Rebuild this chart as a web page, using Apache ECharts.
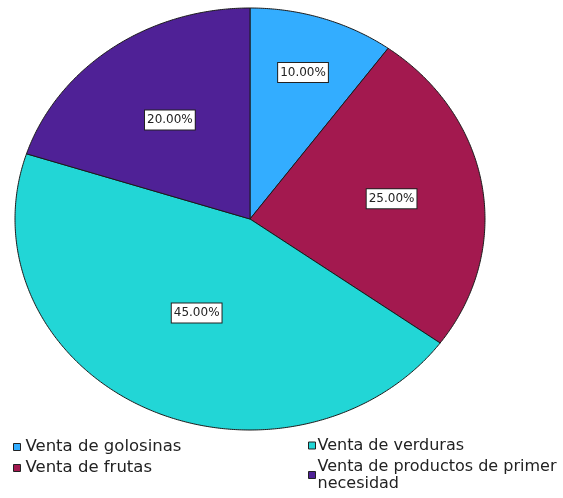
<!DOCTYPE html>
<html>
<head>
<meta charset="utf-8">
<script src="https://cdn.jsdelivr.net/npm/echarts@6/dist/echarts.min.js"></script>
<style>html,body{margin:0;padding:0;background:#fff;}#c{width:563px;height:498px;}</style>
</head>
<body>
<div id="c"></div>
<script>
const categories = ['Venta de golosinas', 'Venta de frutas', 'Venta de verduras', 'Venta de productos de primer necesidad'];
const values = [10, 25, 45, 20];
const colors = ['#33adff', '#a3194f', '#22d6d6', '#4f2196'];
const labelRadius = [0.73, 0.61, 0.50, 0.58];

const total = values.reduce((a, b) => a + b, 0);
const starts = [];
let acc = 0;
values.forEach(v => { starts.push(acc); acc += v; });

function renderSlice(params, api) {
  const i = params.seriesIndex;
  const a0 = starts[i] / total * 2 * Math.PI;
  const a1 = (starts[i] + values[i]) / total * 2 * Math.PI;
  const pts = [api.coord([0, 0])];
  const steps = Math.max(8, Math.ceil((a1 - a0) / (Math.PI / 360)));
  for (let k = 0; k <= steps; k++) {
    const a = a0 + (a1 - a0) * k / steps;
    pts.push(api.coord([Math.sin(a), Math.cos(a)]));
  }
  const am = (a0 + a1) / 2;
  const r = labelRadius[i];
  const lp = api.coord([r * Math.sin(am), r * Math.cos(am)]);
  const pct = (values[i] / total * 100).toFixed(2) + '%';
  return {
    type: 'group',
    children: [
      { type: 'polygon', shape: { points: pts }, style: { fill: colors[i], stroke: '#1a1a1a', lineWidth: 1 } },
      { type: 'text', z2: 100, style: {
          text: pct, x: lp[0], y: lp[1], align: 'center', verticalAlign: 'middle',
          fill: '#222', font: '12px "DejaVu Sans"', backgroundColor: '#fff',
          borderColor: '#222', borderWidth: 1, padding: [4, 2, 3, 2]
      } }
    ]
  };
}

const chart = echarts.init(document.getElementById('c'));
const legendCommon = {
  orient: 'vertical', icon: 'rect', itemWidth: 7, itemHeight: 7, padding: 0,
  itemStyle: { borderColor: '#222', borderWidth: 1 },
  selectedMode: false, height: 80
};
chart.setOption({
  animation: false,
  grid: { left: 15, top: 8, width: 470, height: 422 },
  xAxis: { type: 'value', min: -1, max: 1, show: false },
  yAxis: { type: 'value', min: -1, max: 1, show: false },
  legend: [
    Object.assign({}, legendCommon, { left: 13, top: 438, itemGap: 3,
      textStyle: { fontFamily: 'DejaVu Sans', fontSize: 16.5, color: '#222', lineHeight: 18, padding: 0 },
      data: [categories[0], categories[1]] }),
    Object.assign({}, legendCommon, { left: 308, top: 437, itemGap: 4,
      textStyle: { fontFamily: 'DejaVu Sans', fontSize: 16, color: '#222', lineHeight: 17, padding: [0, 0, 0, -3] },
      data: [categories[2], categories[3]],
      formatter: n => n === categories[3] ? 'Venta de productos de primer\nnecesidad' : n })
  ],
  series: categories.map((name, i) => ({
    type: 'custom', name: name, coordinateSystem: 'cartesian2d',
    itemStyle: { color: colors[i] },
    data: [[0, 0]],
    renderItem: renderSlice
  }))
});
</script>
</body>
</html>
